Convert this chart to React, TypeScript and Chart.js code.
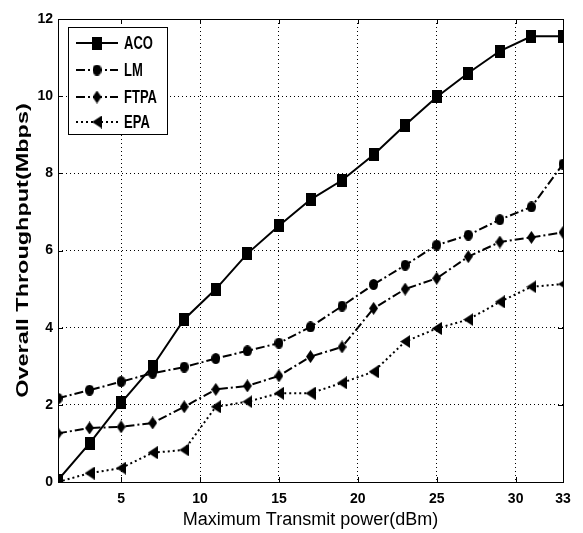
import React, { useEffect, useRef } from 'react';
import { Chart, registerables } from 'chart.js';

Chart.register(...registerables);

// ---- data ----
const powers = [1, 3, 5, 7, 9, 11, 13, 15, 17, 19, 21, 23, 25, 27, 29, 31, 33];
const aco = [0.05, 1.0, 2.05, 3.0, 4.22, 5.0, 5.92, 6.64, 7.32, 7.82, 8.48, 9.25, 9.98, 10.6, 11.17, 11.55, 11.55];
const lm = [2.17, 2.38, 2.6, 2.82, 2.98, 3.2, 3.4, 3.6, 4.02, 4.56, 5.12, 5.62, 6.14, 6.4, 6.8, 7.13, 8.24];
const ftpa = [1.26, 1.4, 1.43, 1.53, 1.95, 2.4, 2.49, 2.75, 3.25, 3.5, 4.5, 5.0, 5.28, 5.84, 6.22, 6.34, 6.47];
const epa = [0.0, 0.23, 0.36, 0.76, 0.83, 1.95, 2.08, 2.3, 2.3, 2.57, 2.86, 3.64, 3.98, 4.21, 4.67, 5.06, 5.13];
const seriesNames = ['ACO', 'LM', 'FTPA', 'EPA'];
const xTickValues = [5, 10, 15, 20, 25, 30, 33];
const yTickValues = [0, 2, 4, 6, 8, 10, 12];
const xTitle = 'Maximum Transmit power(dBm)';
const yTitle = 'Overall Throughput(Mbps)';

const SANS = '"Liberation Sans", Arial, sans-serif';

type Kind = 'square' | 'circle' | 'diamond' | 'left';

function makeMarker(kind: Kind, w: number, h: number): HTMLCanvasElement {
  const c = document.createElement('canvas');
  c.width = w;
  c.height = h;
  const g = c.getContext('2d')!;
  g.fillStyle = '#000';
  g.beginPath();
  if (kind === 'square') g.rect(0, 0, w, h);
  else if (kind === 'circle') g.ellipse(w / 2, h / 2, w / 2, h / 2, 0, 0, Math.PI * 2);
  else if (kind === 'diamond') {
    g.moveTo(w / 2, 0);
    g.lineTo(w, h / 2);
    g.lineTo(w / 2, h);
    g.lineTo(0, h / 2);
    g.closePath();
  } else {
    g.moveTo(0, h / 2);
    g.lineTo(w, 0);
    g.lineTo(w, h);
    g.closePath();
  }
  g.fill();
  return c;
}

export default function App() {
  const ref = useRef<HTMLCanvasElement | null>(null);

  useEffect(() => {
    if (!ref.current) return;
    const markers = [
      makeMarker('square', 10, 13),
      makeMarker('circle', 9, 11),
      makeMarker('diamond', 9, 13),
      makeMarker('left', 10, 13),
    ];
    const dashes: number[][] = [[], [9, 3, 2, 3], [9, 3, 2, 3], [2, 3]];
    const values = [aco, lm, ftpa, epa];

    const framePlugin = {
      id: 'framePlugin',
      beforeDatasetsDraw(chart: any) {
        const { ctx, chartArea: a, scales } = chart;
        ctx.save();
        ctx.strokeStyle = '#000';
        ctx.lineWidth = 1;
        ctx.setLineDash([]);
        ctx.strokeRect(Math.round(a.left) + 0.5, Math.round(a.top) + 0.5, Math.round(a.right - a.left), Math.round(a.bottom - a.top));
        ctx.beginPath();
        xTickValues.forEach((v) => {
          const px = Math.round(scales.x.getPixelForValue(v)) + 0.5;
          ctx.moveTo(px, a.top);
          ctx.lineTo(px, a.top + 5);
          ctx.moveTo(px, a.bottom);
          ctx.lineTo(px, a.bottom - 5);
        });
        yTickValues.forEach((v) => {
          const py = Math.round(scales.y.getPixelForValue(v)) + 0.5;
          ctx.moveTo(a.left, py);
          ctx.lineTo(a.left + 5, py);
          ctx.moveTo(a.right, py);
          ctx.lineTo(a.right - 5, py);
        });
        ctx.stroke();
        ctx.restore();
      },
      afterDatasetsDraw(chart: any) {
        const { ctx, chartArea: a } = chart;
        const bx = a.left + 10;
        const by = a.top + 8;
        const bw = 99;
        const bh = 107;
        ctx.save();
        ctx.fillStyle = '#fff';
        ctx.fillRect(bx, by, bw, bh);
        ctx.strokeStyle = '#000';
        ctx.lineWidth = 1;
        ctx.strokeRect(Math.round(bx) + 0.5, Math.round(by) + 0.5, bw, bh);
        const rows = [16, 43, 70, 95];
        seriesNames.forEach((name, i) => {
          const y = by + rows[i];
          ctx.beginPath();
          ctx.lineWidth = 2;
          ctx.setLineDash(dashes[i]);
          ctx.moveTo(bx + 8, y);
          ctx.lineTo(bx + 50, y);
          ctx.stroke();
          ctx.setLineDash([]);
          const m = markers[i];
          ctx.drawImage(m, bx + 29 - m.width / 2, y - m.height / 2);
          ctx.save();
          ctx.fillStyle = '#000';
          ctx.font = `bold 13px ${SANS}`;
          ctx.textBaseline = 'middle';
          ctx.textAlign = 'left';
          ctx.translate(bx + 56, y + 1);
          ctx.scale(1, 1.35);
          ctx.fillText(name, 0, 0);
          ctx.restore();
        });
        ctx.restore();
      },
      afterDraw(chart: any) {
        const { ctx, chartArea: a } = chart;
        ctx.save();
        ctx.fillStyle = '#000';
        ctx.font = `bold 17px ${SANS}`;
        ctx.textAlign = 'center';
        ctx.textBaseline = 'middle';
        ctx.translate(23, (a.top + a.bottom) / 2);
        ctx.rotate(-Math.PI / 2);
        ctx.scale(1.38, 1);
        ctx.fillText(yTitle, 0, 0);
        ctx.restore();
      },
    };

    const tickFont = { family: SANS, size: 14, weight: 'bold' };

    const chart = new Chart(ref.current, {
      type: 'line',
      data: {
        datasets: seriesNames.map((name, i) => ({
          label: name,
          data: powers.map((p, j) => ({ x: p, y: values[i][j] })),
          borderColor: '#000',
          backgroundColor: '#000',
          borderWidth: 2,
          borderDash: dashes[i],
          pointStyle: markers[i] as any,
          pointRadius: 6,
          tension: 0,
          fill: false,
        })),
      },
      options: {
        animation: false,
        responsive: false,
        devicePixelRatio: 1,
        layout: { padding: { left: 0, top: 19, right: 20, bottom: 0 } },
        plugins: { legend: { display: false }, tooltip: { enabled: false } },
        scales: {
          x: {
            type: 'linear',
            min: 1,
            max: 33,
            afterBuildTicks: (s: any) => {
              s.ticks = xTickValues.map((v) => ({ value: v }));
            },
            afterFit: (s: any) => {
              s.height = 51;
            },
            ticks: {
              color: '#000',
              padding: 9,
              maxRotation: 0,
              autoSkip: false,
              font: tickFont,
              callback: (v: any) => String(v),
            },
            grid: { color: '#000', lineWidth: 1, drawTicks: false },
            border: { display: false, dash: [1, 3] },
            title: {
              display: true,
              text: xTitle,
              color: '#000',
              font: { family: SANS, size: 18 },
              padding: { top: 0, bottom: 2 },
            },
          },
          y: {
            type: 'linear',
            min: 0,
            max: 12,
            afterBuildTicks: (s: any) => {
              s.ticks = yTickValues.map((v) => ({ value: v }));
            },
            afterFit: (s: any) => {
              s.width = 58;
            },
            ticks: {
              color: '#000',
              padding: 5,
              autoSkip: false,
              font: tickFont,
              callback: (v: any) => String(v),
            },
            grid: { color: '#000', lineWidth: 1, drawTicks: false },
            border: { display: false, dash: [1, 3] },
            title: { display: false },
          },
        },
      },
      plugins: [framePlugin],
    } as any);

    return () => chart.destroy();
  }, []);

  return (
    <div style={{ position: 'fixed', left: 0, top: 0, width: 583, height: 533, background: '#fff' }}>
      <canvas ref={ref} width={583} height={533} />
    </div>
  );
}
